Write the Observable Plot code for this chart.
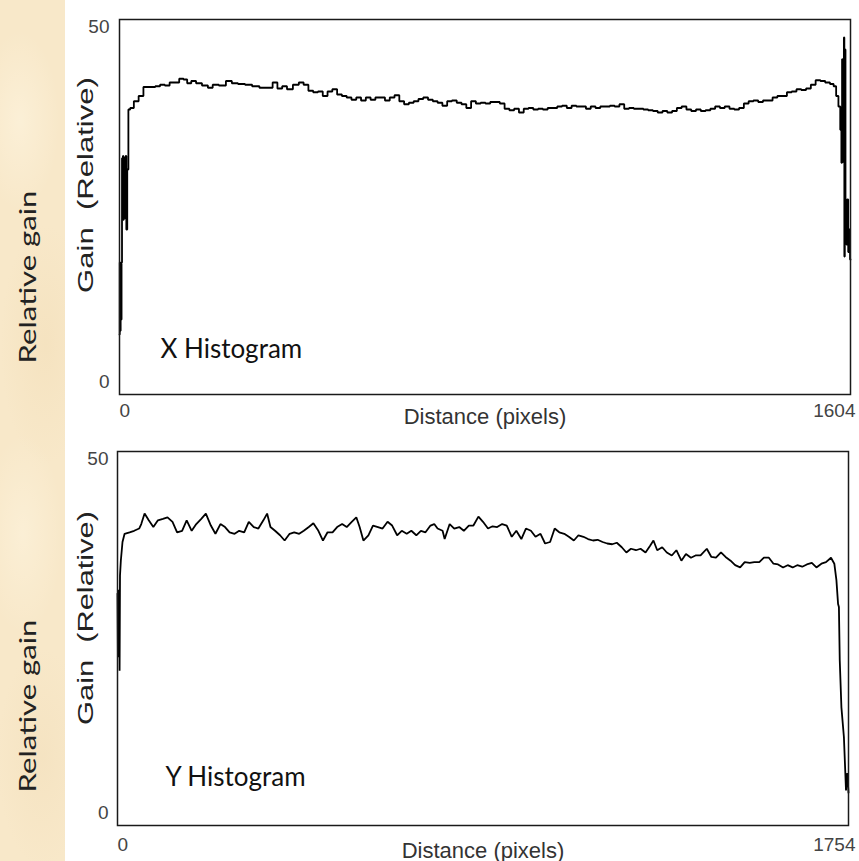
<!DOCTYPE html>
<html>
<head>
<meta charset="utf-8">
<script src="https://cdn.jsdelivr.net/npm/d3@7"></script>
<script src="https://cdn.jsdelivr.net/npm/@observablehq/plot@0.6"></script>
<style>
html, body { margin: 0; padding: 0; background: #fff; }
#wrap { position: relative; width: 859px; height: 861px; overflow: hidden; background: #fff; }
#strip {
  position: absolute; left: 0; top: 0; width: 65px; height: 861px;
  background-color: #f8e8c9;
  background-image:
    radial-gradient(ellipse 40px 90px at 30% 14%, rgba(255,247,228,0.5), rgba(255,247,228,0)),
    radial-gradient(ellipse 45px 120px at 70% 40%, rgba(238,214,170,0.3), rgba(238,214,170,0)),
    radial-gradient(ellipse 40px 100px at 35% 62%, rgba(255,247,228,0.45), rgba(255,247,228,0)),
    radial-gradient(ellipse 45px 110px at 65% 88%, rgba(238,216,176,0.3), rgba(238,216,176,0));
}
.chart { position: absolute; left: 0; }
#labels { position: absolute; left: 0; top: 0; pointer-events: none; }
</style>
</head>
<body>
<div id="wrap">
  <div id="strip"></div>
  <div id="topChart" class="chart" style="top:0px"></div>
  <div id="botChart" class="chart" style="top:425px"></div>
  <svg id="labels" width="859" height="861"></svg>
</div>
<script>
// ---------- data (distance in pixels, relative gain) ----------
const xHistogram = [
  [0,8],[1,17.6],[2,8.5],[3,17],[4,10],[5,17.6],[6,31.5],[7,23.5],[8,31.8],[9,23.3],[10,31.6],[11,24],[12,31],[13,23.5],[14,31.8],[16,22],[18,30],
  [21,38.0],[26,38.2],[37,39.1],[47,39.8],[58,41.0],[73,41.0],[84,41.1],[94,41.3],[105,41.2],[115,41.6],[126,41.6],[136,42.1],[145,42.0],[152,41.5],
  [163,41.8],[173,41.5],[189,41.2],[199,40.9],[210,41.3],[226,41.2],[241,41.8],[252,41.5],[268,41.4],[283,41.3],[299,41.1],[315,40.9],[331,40.9],
  [341,41.6],[352,40.8],[362,41.1],[373,40.7],[388,41.3],[399,41.6],[409,41.3],[420,40.5],[430,40.3],[441,40.4],[451,39.8],[462,40.4],[472,40.7],
  [483,40.0],[493,39.8],[504,39.6],[514,39.3],[525,39.6],[535,39.2],[546,39.6],[556,39.3],[567,39.6],[577,39.6],[588,39.2],[598,39.6],[609,39.9],
  [619,39.1],[630,38.7],[640,38.9],[651,39.1],[661,39.4],[672,39.6],[682,39.3],[693,39.1],[703,38.9],[714,38.5],[724,39.1],[735,39.2],[745,38.9],
  [756,38.7],[766,38.2],[777,39.1],[787,38.8],[798,38.9],[808,38.8],[819,39.0],[829,39.0],[840,38.8],[850,38.1],[861,37.9],[871,38.1],[882,37.6],
  [892,38.1],[903,38.2],[913,38.0],[924,38.1],[934,38.0],[945,38.2],[955,38.2],[966,38.4],[976,38.5],[987,38.2],[997,38.5],[1008,38.4],[1018,38.4],
  [1029,38.1],[1039,38.4],[1050,38.2],[1060,38.4],[1071,38.4],[1081,38.5],[1092,38.4],[1102,38.7],[1113,38.1],[1123,38.2],[1134,38.1],[1144,38.1],
  [1155,38.0],[1165,37.9],[1176,37.8],[1186,37.6],[1197,37.8],[1207,37.6],[1218,37.8],[1228,38.2],[1239,38.4],[1249,38.0],[1260,37.8],[1270,38.0],
  [1281,37.8],[1291,37.9],[1302,38.1],[1312,38.4],[1323,38.2],[1333,38.4],[1344,38.1],[1354,38.0],[1365,38.2],[1375,38.8],[1386,39.1],[1396,39.2],
  [1407,39.0],[1417,39.2],[1428,39.2],[1438,39.6],[1449,39.8],[1459,39.8],[1470,40.3],[1480,40.4],[1491,40.7],[1501,40.6],[1512,40.8],[1522,41.3],
  [1533,41.9],[1543,41.8],[1554,41.6],[1564,41.4],[1570,41.1],[1575,39.8],[1580,38.4],[1583,35.3],[1585,30.9],[1586,44.7],[1587,31],[1588,44],
  [1589,32],[1590,47.6],[1591,18.4],[1592,46],[1594,26],[1596,20],[1598,26],[1600,19],[1602,22],[1604,18]
];

const yHistogram = [
  [0,31],[1,23],[2,31.5],[3,22.5],[4,30.5],[5,20.7],[6,33.4],[8,35.4],[12,37.9],[17,39.0],[29,39.2],[40,39.4],[52,39.7],[57,40.3],[65,41.7],
  [75,40.8],[86,39.9],[97,40.8],[109,41.0],[120,41.2],[132,40.6],[143,39.2],[155,39.4],[166,40.8],[178,39.4],[189,40.3],[201,41.0],[212,41.7],
  [224,40.1],[235,39.0],[247,40.3],[258,39.9],[269,39.2],[281,39.0],[292,39.4],[304,39.2],[315,40.6],[327,39.9],[338,39.7],[350,40.8],[359,41.7],
  [367,39.9],[378,39.4],[390,38.8],[401,38.1],[413,39.0],[424,39.2],[436,39.0],[447,39.4],[459,39.9],[470,40.4],[482,39.4],[493,38.1],[504,39.2],
  [516,39.2],[527,39.9],[539,40.3],[550,39.9],[562,40.6],[573,41.2],[581,39.9],[590,38.1],[602,38.8],[613,40.1],[625,39.9],[636,39.7],[648,40.6],
  [659,40.1],[671,38.8],[682,39.4],[694,39.0],[705,39.4],[717,38.8],[728,39.4],[739,39.2],[751,40.1],[760,40.3],[768,39.7],[780,39.4],[785,38.3],
  [797,40.3],[808,39.7],[820,39.9],[831,39.4],[843,40.1],[854,40.1],[866,41.3],[877,40.6],[889,39.7],[900,40.0],[911,39.9],[923,40.3],[934,40.1],
  [946,38.6],[957,39.4],[969,38.3],[980,39.7],[992,39.4],[1003,38.6],[1015,39.0],[1026,37.7],[1038,37.9],[1049,39.7],[1060,39.2],[1072,39.0],
  [1083,38.6],[1095,38.1],[1106,38.8],[1118,38.6],[1129,38.3],[1141,38.1],[1152,38.2],[1164,37.9],[1175,37.7],[1187,37.6],[1198,37.8],[1210,37.2],
  [1221,36.5],[1232,37.0],[1244,36.8],[1255,37.0],[1267,36.5],[1278,37.4],[1286,38.1],[1295,36.8],[1307,37.2],[1318,36.5],[1330,36.1],[1341,36.8],
  [1353,35.4],[1364,36.3],[1376,35.8],[1387,36.1],[1399,36.1],[1414,37.0],[1425,35.9],[1436,35.8],[1448,36.5],[1459,35.9],[1471,35.4],[1482,34.8],
  [1494,34.5],[1505,35.2],[1517,35.1],[1528,35.2],[1540,35.2],[1551,35.8],[1563,35.8],[1574,35.0],[1585,34.9],[1597,34.5],[1608,34.8],[1620,34.5],
  [1631,34.8],[1643,34.6],[1654,34.9],[1666,35.1],[1677,34.5],[1689,35.0],[1700,35.2],[1712,35.8],[1720,35.0],[1725,32.8],[1729,29.6],[1731,29.2],
  [1733,22.1],[1737,15.8],[1743,11.8],[1748,4.7],[1751,7],[1754,4.4]
];

const gainTicks = [0, 50];
const xTicksTop = [0, 1604];
const xTicksBottom = [0, 1754];
const xTitle = "Distance (pixels)";
const yTitle = "Gain\u00a0 (Relative)";
const sideTitle = "Relative gain";
const panelNames = ["X Histogram", "Y Histogram"];

// ---------- chart builder ----------
const sans = "'Liberation Sans', Arial, Helvetica, sans-serif";
const calib = "Lato, 'Open Sans', sans-serif";
const plain = d => String(d);

function histPlot(data, ticksX, name, curve, m) {
  return Plot.plot({
    width: 859,
    height: m.height,
    marginLeft: m.left,
    marginRight: m.right,
    marginTop: m.top,
    marginBottom: m.bottom,
    style: { background: "transparent", overflow: "visible", fontFamily: sans },
    x: { domain: [ticksX[0], ticksX[1]] },
    y: { domain: [gainTicks[0], gainTicks[1]] },
    marks: [
      Plot.line(data, { x: d => d[0], y: d => d[1], curve, stroke: "#000", strokeWidth: 1.8, strokeLinejoin: "miter" }),
      Plot.frame({ stroke: "#1a1a1a", strokeWidth: 1.5 }),
      Plot.axisY([gainTicks[1]], { tickSize: 0, tickPadding: m.padY, dy: 7, fontSize: 19, color: "#444", label: null, tickFormat: plain }),
      Plot.axisY([gainTicks[0]], { tickSize: 0, tickPadding: m.padY, dy: -13, fontSize: 19, color: "#444", label: null, tickFormat: plain }),
      Plot.axisX([ticksX[0]], { tickSize: 0, tickPadding: m.padX, textAnchor: "start", fontSize: 19, color: "#444", label: null, tickFormat: plain }),
      Plot.axisX([ticksX[1]], { tickSize: 0, tickPadding: m.padX, textAnchor: "end", dx: m.endDx, fontSize: 19, color: "#444", label: null, tickFormat: plain }),
      Plot.text([xTitle], { frameAnchor: "bottom", lineAnchor: "bottom", dy: m.titleDy, fontSize: 22, fill: "#333" }),
      Plot.text([name], { frameAnchor: "bottom-left", lineAnchor: "bottom", textAnchor: "start", dx: m.nameDx, dy: m.nameDy,
                          fontSize: 26, fontFamily: calib, fill: "#111" })
    ]
  });
}

document.getElementById("topChart").appendChild(
  histPlot(xHistogram, xTicksTop, panelNames[0], "step",
    { height: 425, left: 119, right: 9, top: 19, bottom: 31, padY: 10, padX: 8.5, endDx: 5, titleDy: 29, nameDx: 41, nameDy: -37 })
);
document.getElementById("botChart").appendChild(
  histPlot(yHistogram, xTicksBottom, panelNames[1], "linear",
    { height: 436, left: 117, right: 11, top: 26, bottom: 36, padY: 9, padX: 11.5, endDx: 7, titleDy: 32, nameDx: 48, nameDy: -40 })
);

// ---------- rotated side labels (stretched along their length, as in the reference) ----------
const lab = d3.select("#labels");
function rotLabel(text, x, y, size, family, len, fill) {
  const t = lab.append("text")
    .attr("x", 0).attr("y", 0)
    .attr("text-anchor", "middle")
    .attr("font-family", family)
    .attr("font-size", size)
    .attr("fill", fill)
    .style("white-space", "pre")
    .text(text);
  const natural = t.node().getComputedTextLength() || len;
  t.attr("transform", `translate(${x},${y}) rotate(-90) scale(${len / natural},1)`);
}
rotLabel(sideTitle, 36, 277, 24, calib, 173, "#222");
rotLabel(sideTitle, 36, 706, 24, calib, 173, "#222");
rotLabel(yTitle, 93, 185, 22, sans, 216, "#222");
rotLabel(yTitle, 93, 618, 22, sans, 214, "#222");
</script>
</body>
</html>
